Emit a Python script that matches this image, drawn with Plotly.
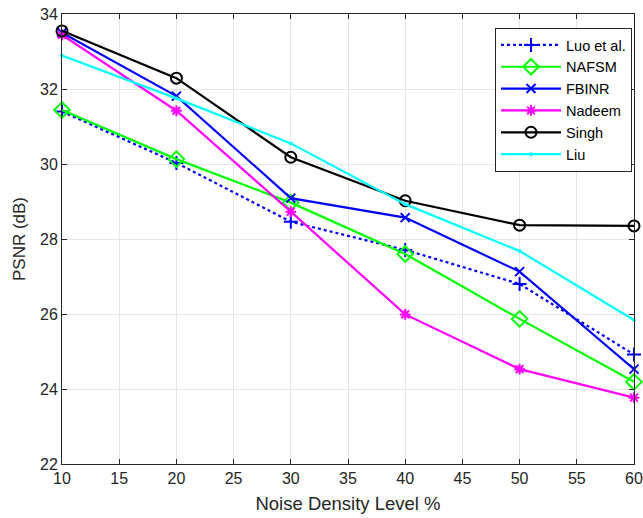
import plotly.graph_objects as go

x_levels = [10, 20, 30, 40, 50, 60]
luo = [31.40, 30.03, 28.46, 27.71, 26.80, 24.92]
nafsm = [31.44, 30.13, 28.97, 27.60, 25.87, 24.19]
fbinr = [33.50, 31.81, 29.09, 28.57, 27.13, 24.53]
nadeem = [33.44, 31.42, 28.73, 25.99, 24.53, 23.77]
singh = [33.55, 32.29, 30.18, 29.02, 28.37, 28.35]
liu = [32.89, 31.75, 30.55, 28.93, 27.68, 25.84]

x_ticks = [10, 15, 20, 25, 30, 35, 40, 45, 50, 55, 60]
y_ticks = [22, 24, 26, 28, 30, 32, 34]

FONT = "Liberation Sans, Arial, sans-serif"

fig = go.Figure()

def add(name, y, color, symbol, dash="solid", size=9, mode="lines+markers"):
    fig.add_trace(go.Scatter(
        x=x_levels, y=y, name=name, mode=mode,
        line=dict(color=color, width=2.2, dash=dash),
        marker=dict(symbol=symbol, size=size, color=color,
                    line=dict(color=color, width=2)),
        cliponaxis=False,
    ))

add("Luo et al.", luo, "#0000FF", "cross-thin-open", dash="dot", size=10)
add("NAFSM", nafsm, "#00FF00", "diamond-open", size=12)
add("FBINR", fbinr, "#0000FF", "x-thin-open", size=9)
add("Nadeem", nadeem, "#FF00FF", "asterisk-open", size=9)
add("Singh", singh, "#000000", "circle-open", size=11)
add("Liu", liu, "#00FFFF", "circle", size=2)

axis_common = dict(
    showline=True, linecolor="#262626", linewidth=1, mirror="allticks",
    ticks="inside", ticklen=5, tickcolor="#262626",
    showgrid=True, gridcolor="#E6E6E6", gridwidth=1, zeroline=False,
    automargin=False,
    tickfont=dict(family=FONT, size=16, color="#262626"),
)

fig.update_xaxes(range=[10, 60], tickvals=x_ticks,
                 title=dict(text="Noise Density Level %", standoff=10,
                            font=dict(family=FONT, size=18.5, color="#262626")),
                 **axis_common)
fig.update_yaxes(range=[22, 34], tickvals=y_ticks,
                 title=dict(text="PSNR (dB)", standoff=10,
                            font=dict(family=FONT, size=17, color="#262626")),
                 **axis_common)

fig.update_layout(
    width=643, height=518,
    margin=dict(l=62, r=9, t=14, b=54),
    paper_bgcolor="white", plot_bgcolor="white",
    legend=dict(x=0.9965, y=0.969, xanchor="right", yanchor="top",
                bgcolor="white", bordercolor="#262626", borderwidth=1,
                font=dict(family=FONT, size=14.5, color="#000000"),
                tracegroupgap=0, itemwidth=60),
    showlegend=True,
)

fig.write_html("out.html")
